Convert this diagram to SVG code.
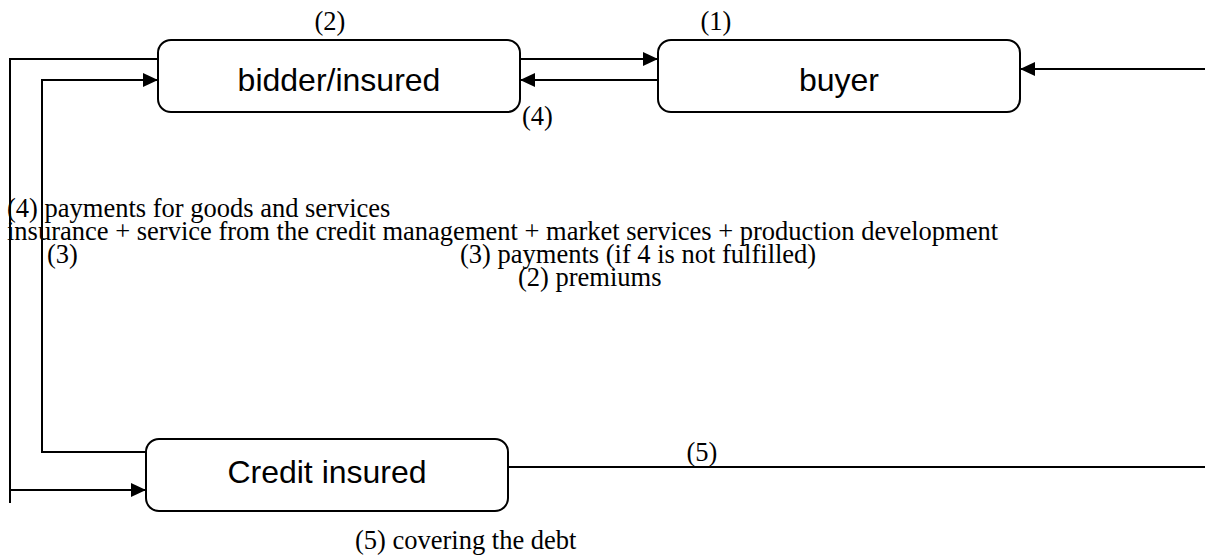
<svg xmlns="http://www.w3.org/2000/svg" width="1205" height="556" viewBox="0 0 1205 556">
<style>
.box{fill:#fff;stroke:#000;stroke-width:2}
.lbl{font-family:"Liberation Sans",Arial,sans-serif;font-size:32px;fill:#000;text-anchor:middle}
.t{font-family:"Liberation Serif","Times New Roman",serif;font-size:26.5px;fill:#000}
.c{fill:none;stroke:#000;stroke-width:2}
</style>
<defs>
<marker id="ah" viewBox="0 0 15 14" refX="15" refY="7" markerWidth="15" markerHeight="14" markerUnits="userSpaceOnUse" orient="auto">
<path d="M0,0 L15,7 L0,14 Z" fill="#000"/>
</marker>
</defs>
<rect width="1205" height="556" fill="#fff"/>
<g id="connectors">
<path class="c" d="M158,59 H10 V503"/>
<path class="c" d="M10,490 H146" marker-end="url(#ah)"/>
<path class="c" d="M146,452 H42 V80 H158" marker-end="url(#ah)"/>
<path class="c" d="M520,59 H658" marker-end="url(#ah)"/>
<path class="c" d="M658,80 H520" marker-end="url(#ah)"/>
<path class="c" d="M1205,69 H1020" marker-end="url(#ah)"/>
<path class="c" d="M508,467 H1205"/>
</g>
<g id="node-bidder">
<rect class="box" x="158" y="40" width="362" height="72" rx="13"/>
<text class="lbl" x="339" y="91">bidder/insured</text>
</g>
<g id="node-buyer">
<rect class="box" x="658" y="40" width="362" height="72" rx="13"/>
<text class="lbl" x="839" y="91">buyer</text>
</g>
<g id="node-credit">
<rect class="box" x="146" y="439" width="362" height="72" rx="13"/>
<text class="lbl" x="327" y="483">Credit insured</text>
</g>
<g id="labels">
<text class="t" x="330" y="30" text-anchor="middle">(2)</text>
<text class="t" x="716" y="30" text-anchor="middle">(1)</text>
<text class="t" x="522" y="125">(4)</text>
<text class="t" x="7" y="217">(4) payments for goods and services</text>
<text class="t" x="7" y="240">insurance + service from the credit management + market services + production development</text>
<text class="t" x="47" y="263">(3)</text>
<text class="t" x="460" y="263">(3) payments (if 4 is not fulfilled)</text>
<text class="t" x="518" y="286">(2) premiums</text>
<text class="t" x="702" y="461" text-anchor="middle">(5)</text>
<text class="t" x="355" y="549">(5) covering the debt</text>
</g>
</svg>
